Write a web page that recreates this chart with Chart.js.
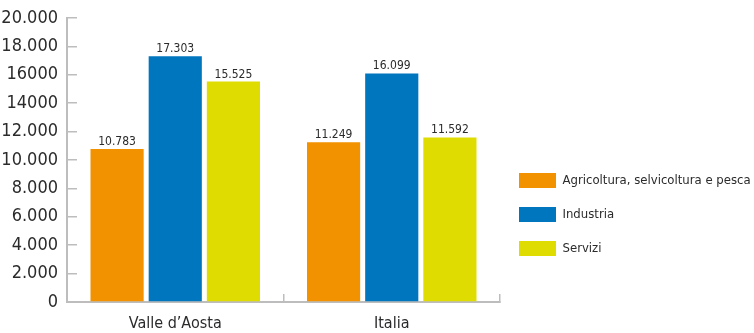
<!DOCTYPE html>
<html>
<head>
<meta charset="utf-8">
<script src="https://cdn.jsdelivr.net/npm/chart.js@4/dist/chart.umd.min.js"></script>
<style>
  html, body { margin: 0; padding: 0; background: #fff; }
  #wrap { width: 754px; height: 333px; position: relative; }
</style>
</head>
<body>
<div id="wrap"><canvas id="chart"></canvas></div>
<script>
// categories, series and tick labels
var categories = ['Valle d\u2019Aosta', 'Italia'];
var seriesNames = ['Agricoltura, selvicoltura e pesca', 'Industria', 'Servizi'];
var agricoltura = [10783, 11249];
var industria = [17303, 16099];
var servizi = [15525, 11592];
var tickValues = [0, 2000, 4000, 6000, 8000, 10000, 12000, 14000, 16000, 18000, 20000];
var tickLabels = ['0', '2.000', '4.000', '6.000', '8.000', '10.000', '12.000', '14000', '16000', '18.000', '20.000'];

var colors = ['#f39200', '#0076be', '#dedc00'];
var FONT = "'DejaVu Sans Condensed', 'Liberation Sans Narrow', sans-serif";
var TEXT = '#2b2b2b';
var AXIS = '#bdbdbd';

function fmt(v) {
    return v.toLocaleString('de-DE');
}

// value labels above every bar
var barLabels = {
    id: 'barLabels',
    afterDatasetsDraw: function (chart) {
        var ctx = chart.ctx;
        ctx.save();
        ctx.font = '12px ' + FONT;
        ctx.fillStyle = TEXT;
        ctx.textAlign = 'center';
        ctx.textBaseline = 'alphabetic';
        chart.data.datasets.forEach(function (ds, i) {
            chart.getDatasetMeta(i).data.forEach(function (bar, j) {
                ctx.fillText(fmt(ds.data[j]), bar.x, bar.y - 4);
            });
        });
        ctx.restore();
    }
};

// fixed legend width, and the legend sits a bit below the middle
var legendTweak = {
    id: 'legendTweak',
    beforeLayout: function (chart) {
        var lg = chart.legend;
        if (lg && !lg._fixedWidth) {
            var fit = lg.fit;
            lg.fit = function () {
                fit.call(this);
                this.width = 254;
            };
            lg._fixedWidth = true;
        }
    },
    afterLayout: function (chart) {
        var lg = chart.legend;
        lg.top += 48;
        lg.bottom += 48;
    }
};

new Chart(document.getElementById('chart'), {
    type: 'bar',
    data: {
        labels: categories,
        datasets: [
            { label: seriesNames[0], data: agricoltura, backgroundColor: colors[0] },
            { label: seriesNames[1], data: industria, backgroundColor: colors[1] },
            { label: seriesNames[2], data: servizi, backgroundColor: colors[2] }
        ]
    },
    plugins: [barLabels, legendTweak],
    options: {
        responsive: true,
        maintainAspectRatio: false,
        animation: false,
        layout: { padding: 0 },
        datasets: {
            bar: { categoryPercentage: 0.806, barPercentage: 0.914 }
        },
        plugins: {
            tooltip: { enabled: false },
            legend: {
                position: 'right',
                align: 'center',
                labels: {
                    boxWidth: 37,
                    boxHeight: 15,
                    padding: 19,
                    color: TEXT,
                    font: { family: FONT, size: 13 }
                }
            }
        },
        scales: {
            y: {
                min: 0,
                max: 20000,
                afterFit: function (s) {
                    s.width = 67;
                    s.paddingTop = 18;
                    s.paddingBottom = 0;
                },
                afterBuildTicks: function (s) {
                    s.ticks = tickValues.map(function (v) { return { value: v }; });
                },
                ticks: {
                    padding: 19,
                    color: TEXT,
                    font: { family: FONT, size: 18 },
                    callback: function (v) {
                        var k = tickValues.indexOf(v);
                        return k >= 0 ? tickLabels[k] : '';
                    }
                },
                grid: {
                    drawOnChartArea: false,
                    tickLength: -10,
                    color: AXIS,
                    lineWidth: 1.5
                },
                border: { color: AXIS, width: 2 }
            },
            x: {
                afterFit: function (s) { s.height = 31; },
                ticks: {
                    padding: 20,
                    color: TEXT,
                    font: { family: FONT, size: 16 }
                },
                grid: {
                    drawOnChartArea: false,
                    offset: true,
                    tickLength: -8,
                    color: AXIS,
                    lineWidth: 1.5
                },
                border: { color: AXIS, width: 2 }
            }
        }
    }
});
</script>
</body>
</html>
